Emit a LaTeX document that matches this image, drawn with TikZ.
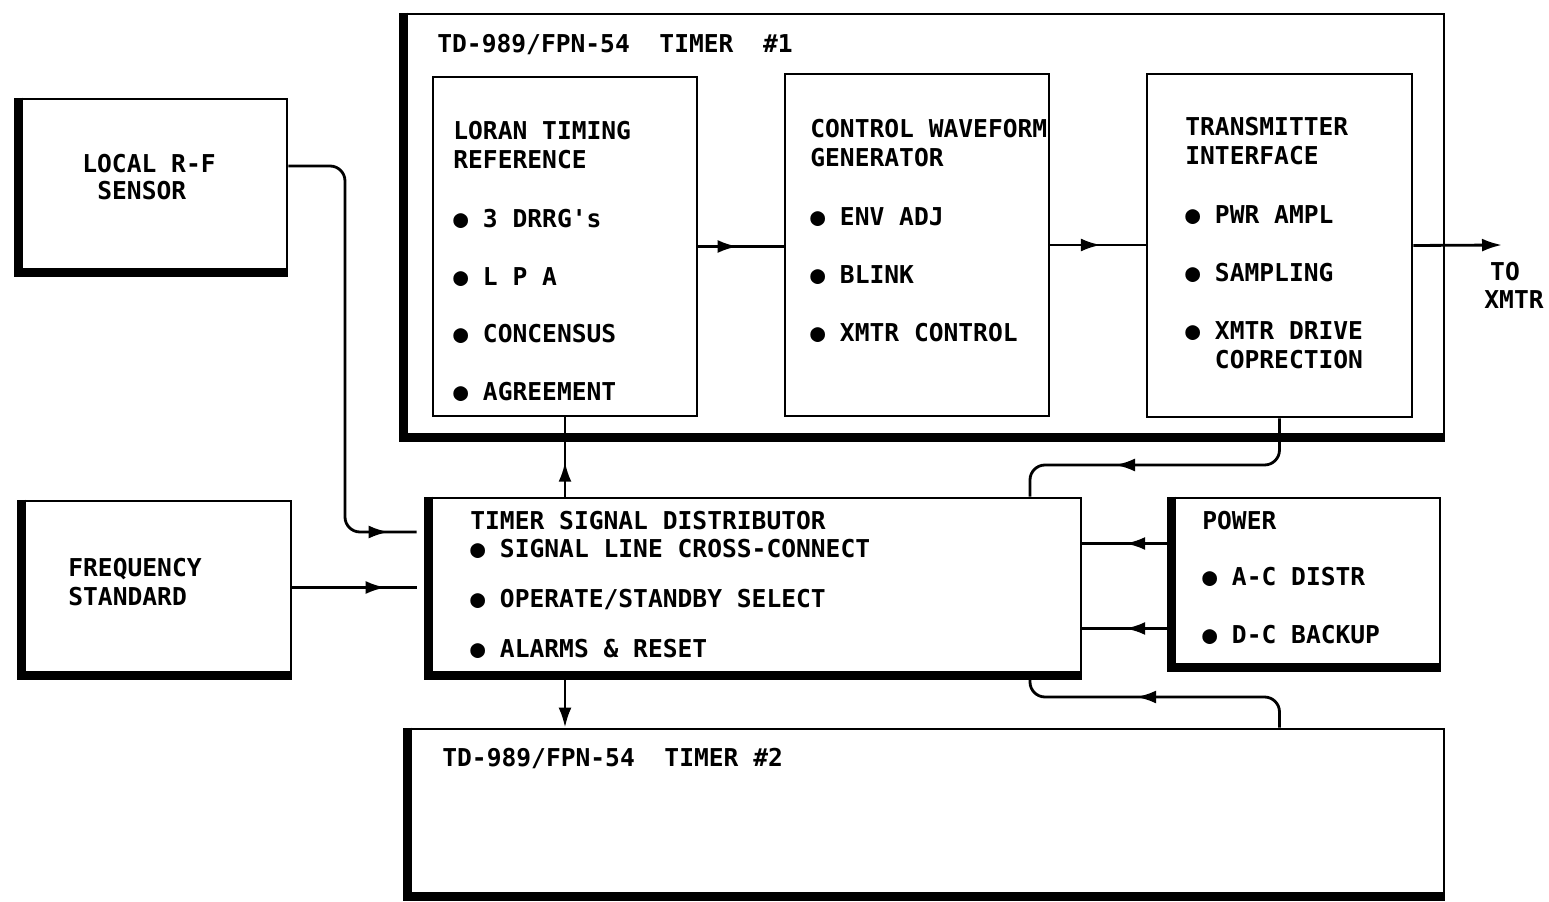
\documentclass[tikz,border=0pt]{standalone}
\usepackage{fontspec}
\newfontfamily\lettering{DejaVu Sans Mono}
\usetikzlibrary{positioning,arrows.meta,fit,decorations.markings}
\tikzset{
  >={Latex[length=0.4cm,width=0.26cm]},
  unit/.style={draw, line width=1.6pt, inner sep=0pt},
  heavy/.style={line width=5pt},
  wire/.style={line width=1.6pt},
  midflow/.style={postaction={decorate},
    decoration={markings, mark=at position #1 with {\arrow{>}}}},
  lbl/.style={font={\lettering\bfseries\fontsize{14}{17}\selectfont},
    inner sep=0pt, anchor=west, text height=10pt, text depth=0pt}
}

\begin{document}
\begin{tikzpicture}[x=0.02cm,y=-0.02cm]
  \useasboundingbox (0,0) rectangle (1549,902);
  % units with heavy left/bottom edge
  \node[unit, fit={(405,14) (1444,436)}] (timerA) {};
  \node[unit, fit={(409,729) (1444,895)}] (timerB) {};
  \node[unit, fit={(20,99) (287,271)}] (sensor) {};
  \node[unit, fit={(23,501) (291,674)}] (freq) {};
  \node[unit, fit={(430,498) (1081,674)}] (tsd) {};
  \node[unit, fit={(1173,498) (1440,666)}] (power) {};
  \foreach \n in {timerA,timerB,sensor,freq,tsd,power}
    \draw[heavy] (\n.north west) -- (\n.south west) -- (\n.south east);
  % cards inside timer 1
  \node[unit, fit={(433,77) (697,416)}] (loran) {};
  \node[unit, fit={(785,74) (1049,416)}] (cwg) {};
  \node[unit, fit={(1147,74) (1412,417)}] (xmtr) {};

  % texts
  \node[lbl] (timerA title) at (437,44) {TD-989/FPN-54\ \ TIMER\ \ \#1};
  \node[lbl] (timerB title) at (442,758) {TD-989/FPN-54\ \ TIMER \#2};
  \node[lbl] (sensor t1) at (82,164) {LOCAL R-F};
  \node[lbl] (sensor t2) at (97,191) {SENSOR};
  \node[lbl] (freq t1) at (68,568) {FREQUENCY};
  \node[lbl] (freq t2) at (68,597) {STANDARD};
  \foreach \y/\t [count=\i] in {131/LORAN TIMING, 160/REFERENCE,
      219/{● 3 DRRG\textquotesingle s}, 277/● L P A, 334/● CONCENSUS, 392/● AGREEMENT}
    \node[lbl] (loran t\i) at (453,\y) {\t};
  \foreach \y/\t [count=\i] in {129/CONTROL WAVEFORM, 158/GENERATOR,
      217/● ENV ADJ, 275/● BLINK, 333/● XMTR CONTROL}
    \node[lbl] (cwg t\i) at (810,\y) {\t};
  \foreach \y/\t [count=\i] in {127/TRANSMITTER, 156/INTERFACE,
      215/● PWR AMPL, 273/● SAMPLING, 331/● XMTR DRIVE, 360/\ \ COPRECTION}
    \node[lbl] (xmtr t\i) at (1185,\y) {\t};
  \foreach \y/\t [count=\i] in {521/TIMER SIGNAL DISTRIBUTOR,
      549/● SIGNAL LINE CROSS-CONNECT, 599/{● OPERATE/STANDBY SELECT},
      649/● ALARMS \& RESET}
    \node[lbl] (tsd t\i) at (470,\y) {\t};
  \foreach \y/\t [count=\i] in {521/POWER, 577/● A-C DISTR, 635/● D-C BACKUP}
    \node[lbl] (power t\i) at (1202,\y) {\t};
  \node[lbl, anchor=center] (out t1) at (1505,272) {TO};
  \node[lbl, anchor=center] (out t2) at (1514,300) {XMTR};

  % signal chain in timer 1
  \draw[wire, midflow=0.46] (loran.east) -- (loran.east -| cwg.west);
  \draw[wire, midflow=0.53] (cwg.east) -- (cwg.east -| xmtr.west);
  \coordinate (xmtr out) at (1502,245);
  \draw[wire, ->] (xmtr.east) -- (xmtr out);

  % inputs to distributor
  \coordinate (rf bend) at (345,532);
  \draw[wire, rounded corners=0.3cm, shorten >=0.24cm, midflow=-0.8cm]
    ([yshift=0.38cm]sensor.east) -| (rf bend) -- (rf bend -| tsd.west);
  \draw[wire, shorten >=0.24cm, midflow=-0.86cm] (freq.east) -- (freq.east -| tsd.west);
  \draw[wire, midflow=0.52] ([yshift=0.77cm]power.west) -- ([yshift=0.77cm]power.west -| tsd.east);
  \draw[wire, midflow=0.52] ([yshift=-0.93cm]power.west) -- ([yshift=-0.93cm]power.west -| tsd.east);

  % distributor to timers
  \draw[wire, midflow=0.44] (tsd.north -| loran.south) -- (loran.south);
  \draw[wire, ->] (tsd.south -| loran.south) -- (timerB.north -| loran.south);

  % return paths
  \coordinate (fb top) at (1030,465);
  \draw[wire, rounded corners=0.3cm, midflow=0.65]
    (xmtr.south) |- (fb top) -- (fb top |- tsd.north);
  \coordinate (fb low) at (1030,697);
  \draw[wire, rounded corners=0.3cm, midflow=0.58]
    (timerB.north -| xmtr.south) |- (fb low) -- (fb low |- tsd.south);
\end{tikzpicture}
\end{document}
